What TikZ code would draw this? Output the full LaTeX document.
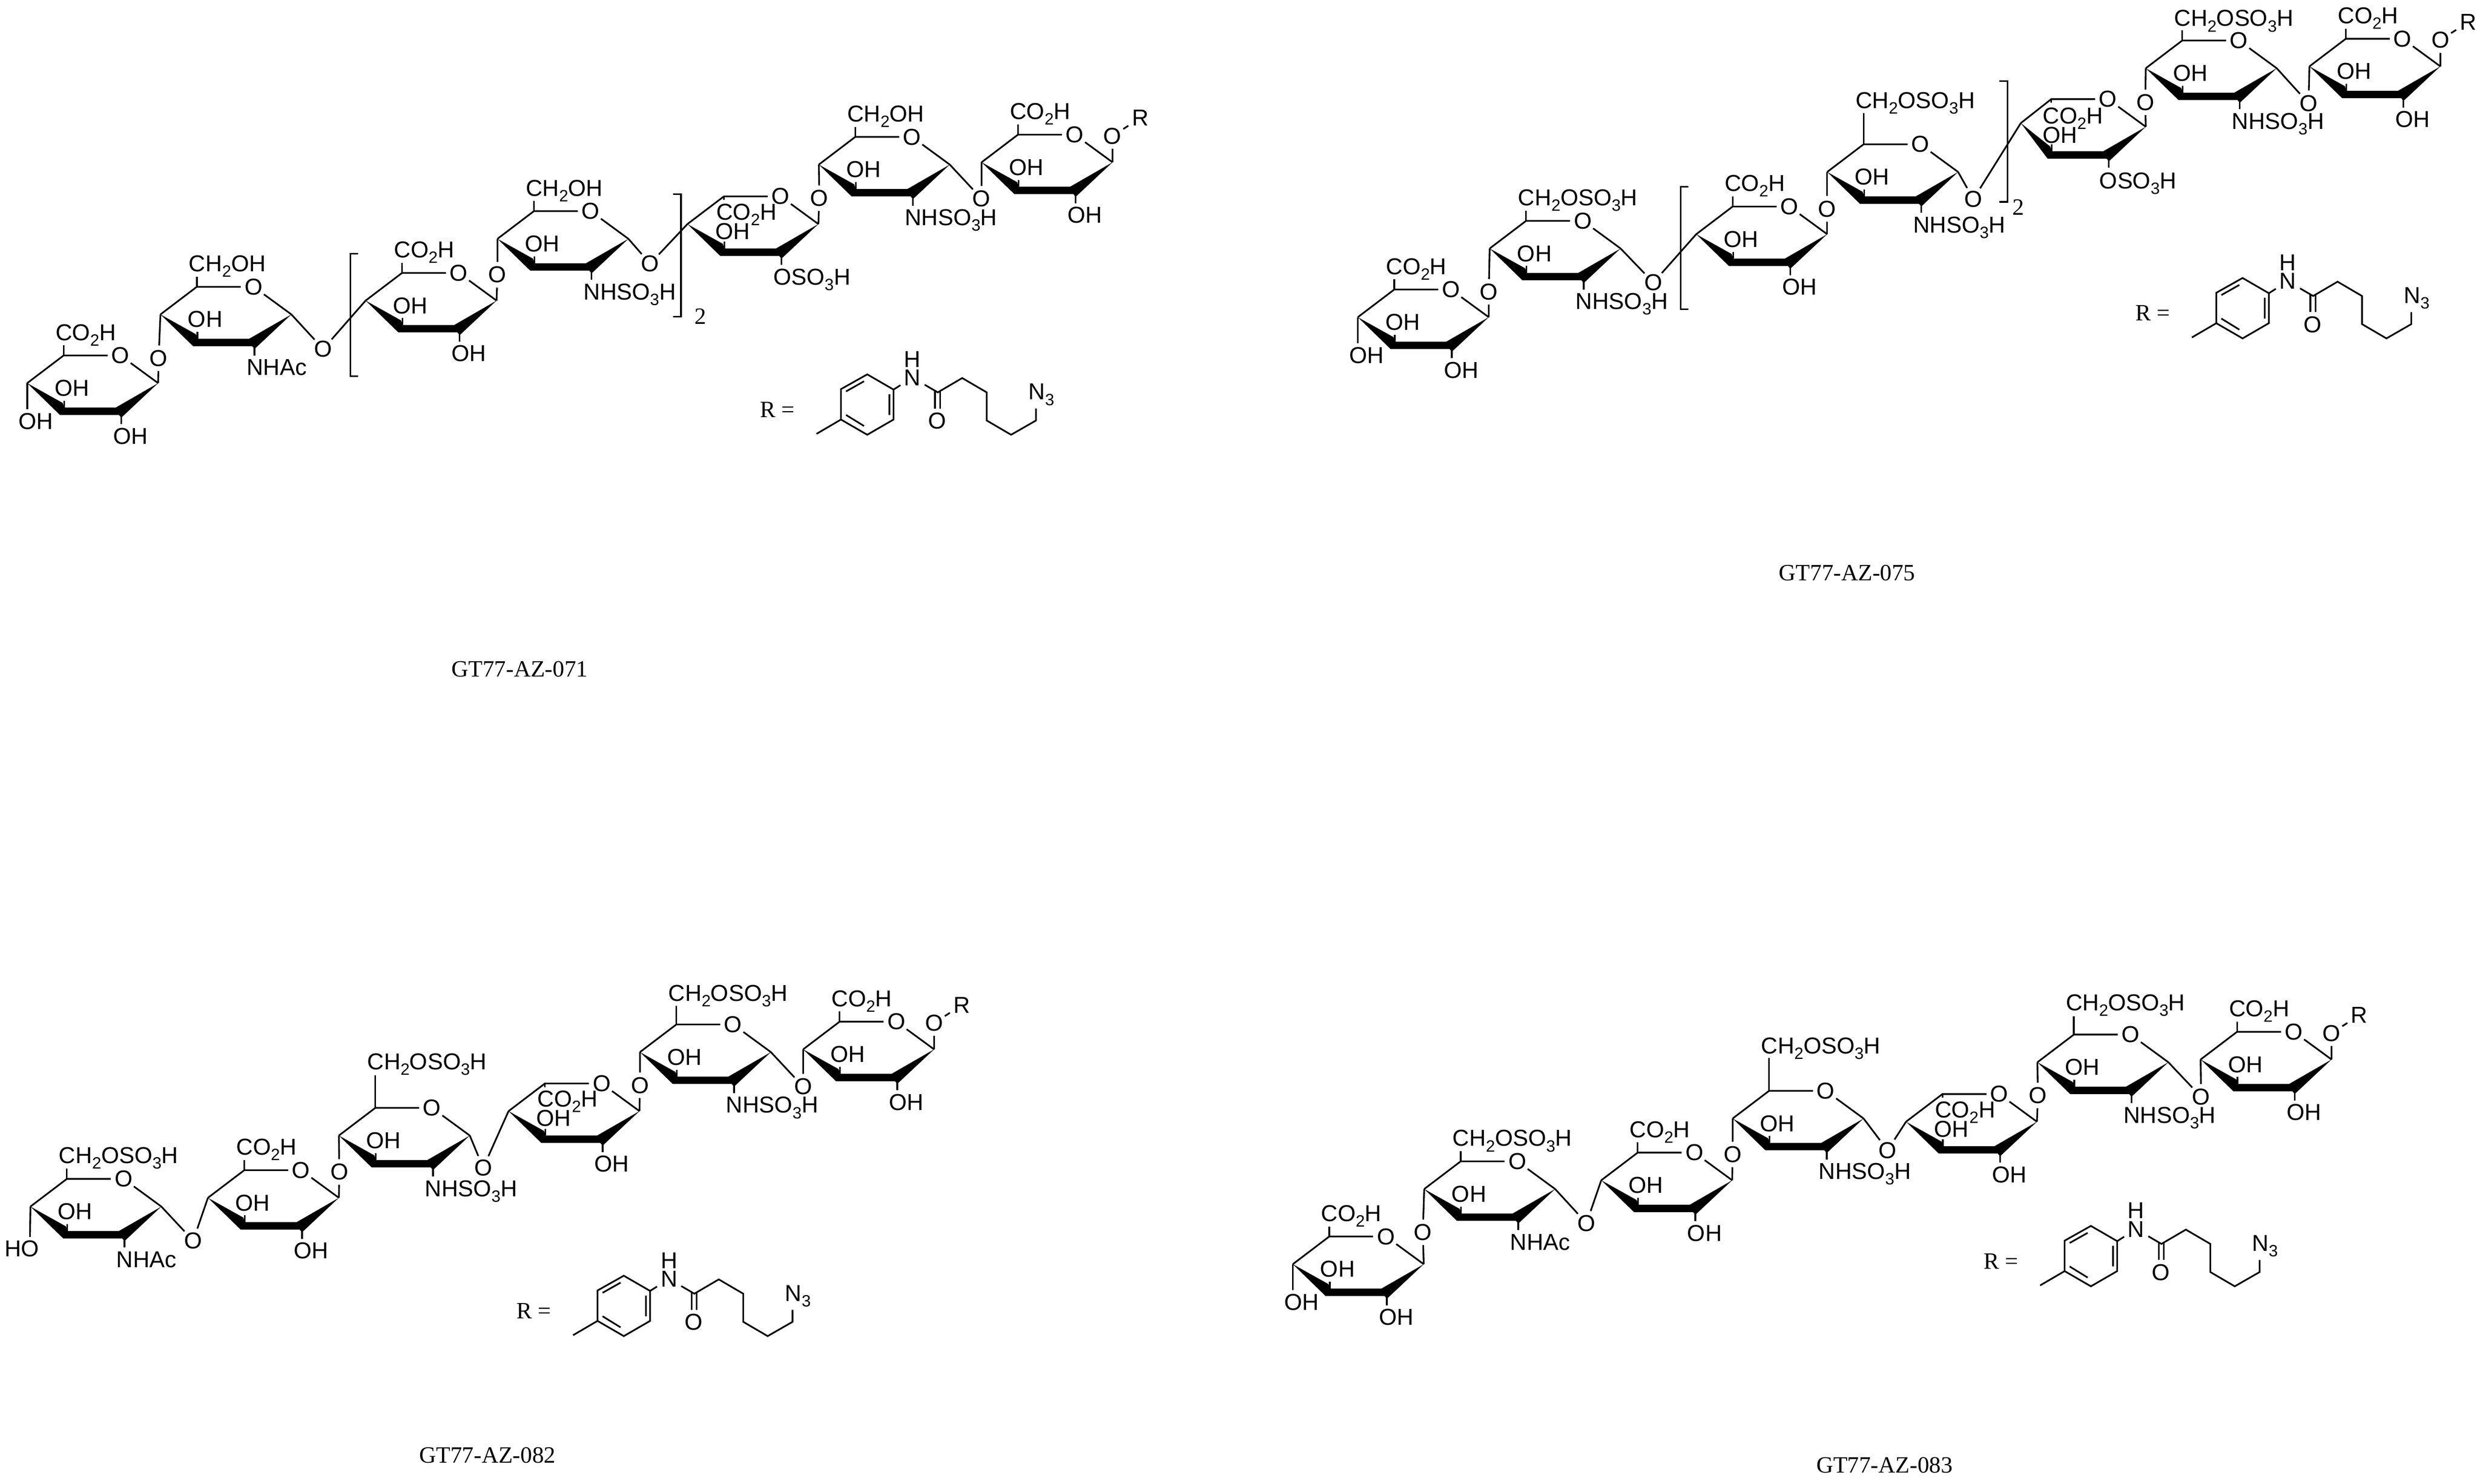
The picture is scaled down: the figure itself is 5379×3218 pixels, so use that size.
\documentclass[tikz,border=0pt]{standalone}
\usepackage{fontspec}
\usepackage{graphicx}
\newfontfamily\chem{Liberation Sans}
\newfontfamily\tnr{Liberation Serif}
\newcommand\chemfont{\chem\fontsize{14.2}{16}\selectfont}
\newcommand\tnrfont{\tnr\fontsize{14.4}{16}\selectfont}
\newcommand\sbs[1]{\raisebox{-0.24em}{\fontsize{10.1}{10}\selectfont #1}}
\newcounter{tn}
\tikzset{
  bond/.style={line width=0.036cm,line cap=butt,line join=miter},
  lab/.style={anchor=base west,inner sep=0pt,font=\chemfont},
  atom/.style={circle,inner sep=0pt,minimum size=0.54cm,font=\chemfont},
  atomwide/.style={circle,inner sep=0pt,minimum size=0.6cm,font=\chemfont},
  serif/.style={anchor=base west,inner sep=0pt,font=\tnrfont},
}
\newcommand\lab[3]{\stepcounter{tn}\node[lab] (t\thetn) at (#1,#2) {#3};}
\newcommand\chol{CH\sbs{2}OH}
\newcommand\chos{CH\sbs{2}OSO\sbs{3}H}
\newcommand\nhs{NHSO\sbs{3}H}
\newcommand\oso{OSO\sbs{3}H}
\newcommand\cotop{\draw[bond] (0,0)--(0,-22);\lab{-18}{-33}{CO\sbs{2}H}}
\newcommand\chtop[3]{\draw[bond] (0,0)--(0,-#1);\lab{-18}{#2}{#3}}
\newcommand\inoh{\lab{-20}{88}{OH}}
\newcommand\inohb{\lab{-19}{93}{OH}}
\newcommand\botx[1]{\draw[bond] (125,130)--(125,149);\lab{107}{192}{#1}}
\newcommand\botoh{\botx{OH}}
\newcommand\coin{\draw[bond] (0,0)--(0,8);\lab{-17}{51}{CO\sbs{2}H}}
\newcommand\cfoh{\draw[bond] (-79,60)--(-79,116);\lab{-98}{160}{OH}}
% sugar ring: optional C4 position, name, C5 position, substituents
\newcommand\sugar[5][-79,60]{%
  \begin{scope}[shift={(#3,#4)}]
    \coordinate (#2c5) at (0,0);
    \coordinate (#2c4) at (#1);
    \coordinate (#2c1) at (205,60);
    \node[atom] (#2o) at (123,0) {O};
    \draw[bond] (#2c4)--(#2c5)--(#2o)--(#2c1);
    \fill (#2c4)--(-2,103)--(1,113)--(113,113)--(#2c1)--(125,135)--(120,129)--(-8,129)--cycle;
    \draw[bond] (1,113)--(1,98);
    #5
  \end{scope}}
\newcommand\glyc[4]{\node[atom] (o#1#2) at (#3,#4) {O};}
\newcommand\lnk[4]{\glyc{#1}{#2}{#3}{#4}\pgfmathtruncatemacro\nx{#2+1}\draw[bond] (#1#2c1)--(o#1#2)--(#1\nx c4);}
\newcommand\tailR[2]{%
  \path (#1#2c1) ++(0,-57) node[atom] (o#1#2) {O};
  \path (#1#2c1) ++(60,-96) node[atomwide] (R#1) {R};
  \draw[bond] (#1#2c1)--(o#1#2)--(R#1);}
\newcommand\linker[3]{%
  \begin{scope}[shift={(#2,#3)}]
    \coordinate (#1a) at (0,0);
    \coordinate (#1b) at (57,33);
    \coordinate (#1c) at (57,98);
    \coordinate (#1d) at (0,131);
    \coordinate (#1e) at (-57,98);
    \coordinate (#1f) at (-57,32);
    \coordinate (#1me) at (-110,129);
    \coordinate (#1co) at (153,39);
    \coordinate (#1ch1) at (206,8);
    \coordinate (#1ch2) at (259,39);
    \coordinate (#1ch3) at (259,100);
    \coordinate (#1ch4) at (312,131);
    \coordinate (#1ch5) at (366,100);
    \coordinate (#1az) at (366,74);
    \node[atomwide] (#1n) at (98,7) {N};
    \node[atom] (#1h) at (98,-33) {H};
    \node[atom] (#1ox) at (152,101) {O};
    \stepcounter{tn}\node[lab] (t\thetn) at (349,55) {N\sbs{3}};
    \stepcounter{tn}\node[serif] (t\thetn) at (-233,93) {R =};
    \draw[bond] (#1a)--(#1b)--(#1c)--(#1d)--(#1e)--(#1f)--cycle;
    \draw[bond] (#1e)--(#1me);
    \draw[bond] (48,43)--(48,88) (-46,37)--(-7,15) (-46,88)--(-7,112);
    \draw[bond] (#1b)--(#1n)--(#1co)--(#1ch1)--(#1ch2)--(#1ch3)--(#1ch4)--(#1ch5)--(#1az);
    \draw[bond] (147,36)--(147,74) (158,36)--(158,74);
  \end{scope}}
\newcommand\brL[3]{\draw[bond] (#1+17,#2)--(#1,#2)--(#1,#3)--(#1+17,#3);}
\newcommand\brR[3]{\draw[bond] (#1-17,#2)--(#1,#2)--(#1,#3)--(#1-17,#3);}
\begin{document}
\begin{tikzpicture}[x=0.01cm,y=-0.01cm]
\useasboundingbox (0,0) rectangle (5379,3218);
% ---- GT77-AZ-071
\sugar{a1}{138}{771}{\cotop\inoh\botoh\cfoh}
\sugar{a2}{427}{622}{\chtop{22}{-33}{\chol}\inoh\botx{NHAc}}
\sugar{a3}{872}{592}{\cotop\inoh\botoh}
\sugar{a4}{1158}{458}{\chtop{22}{-33}{\chol}\inoh\botx{\nhs}}
\sugar{a5}{1570}{426}{\coin\inohb\botx{\oso}}
\sugar{a6}{1855}{297}{\chtop{22}{-33}{\chol}\inoh\botx{\nhs}}
\sugar{a7}{2208}{292}{\cotop\inoh\botoh}
\lnk{a}{1}{344}{777}
\lnk{a}{2}{701}{757}
\lnk{a}{3}{1079}{596}
\lnk{a}{4}{1410}{572}
\lnk{a}{5}{1777}{430}
\lnk{a}{6}{2129}{431}
\tailR{a}{7}
\brL{760}{550}{816}
\brR{1477}{421}{687}
\node[inner sep=0pt,font=\tnrfont] (n2a) at (1519,686) {2};
\linker{ra}{1881}{812}
\node[serif] (capa) at (979,1468) {GT77-AZ-071};
% ---- GT77-AZ-075
\sugar{b1}{3024}{628}{\cotop\inoh\botoh\cfoh}
\sugar{b2}{3310}{479}{\chtop{22}{-33}{\chos}\inoh\botx{\nhs}}
\sugar{b3}{3758}{448}{\cotop\inoh\botoh}
\sugar{b4}{4042}{313}{\chtop{68}{-78}{\chos}\inoh\botx{\nhs}}
\sugar[-66,52]{b5}{4449}{215}{\draw[bond] (0,0)--(0,8);\lab{-19}{53}{CO\sbs{2}H}\lab{-19}{95}{OH}\draw[bond] (125,130)--(125,149);\lab{104}{194}{\oso}}
\sugar{b6}{4733}{88}{\chtop{22}{-31}{\chos}\inoh\botx{\nhs}}
\sugar{b7}{5088}{84}{\cotop\inoh\botoh}
\lnk{b}{1}{3229}{633}
\lnk{b}{2}{3586}{613}
\lnk{b}{3}{3963}{453}
\lnk{b}{4}{4280}{432}
\lnk{b}{5}{4653}{222}
\lnk{b}{6}{5007}{224}
\tailR{b}{7}
\brL{3645}{405}{671}
\brR{4354}{176}{438}
\node[inner sep=0pt,font=\tnrfont] (n2b) at (4378,450) {2};
\linker{rb}{4864}{603}
\node[serif] (capb) at (3858,1259) {GT77-AZ-075};
% ---- GT77-AZ-082
\sugar{c1}{145}{2557}{\chtop{22}{-34}{\chos}\inoh\botx{NHAc}\draw[bond] (-79,60)--(-80,126);\lab{-136}{169}{HO}}
\sugar{c2}{530}{2538}{\cotop\inoh\botoh}
\sugar{c3}{814}{2403}{\chtop{71}{-83}{\chos}\inoh\botx{\nhs}}
\sugar{c4}{1182}{2350}{\coin\inohb\botoh}
\sugar{c5}{1467}{2222}{\chtop{40}{-51}{\chos}\inoh\botx{\nhs}}
\sugar{c6}{1821}{2216}{\cotop\inoh\botoh}
\lnk{c}{1}{419}{2691}
\lnk{c}{2}{736}{2542}
\lnk{c}{3}{1048}{2533}
\lnk{c}{4}{1388}{2354}
\lnk{c}{5}{1742}{2357}
\tailR{c}{6}
\linker{rc}{1353}{2767}
\node[serif] (capc) at (909,3173) {GT77-AZ-082};
% ---- GT77-AZ-083
\sugar{d1}{2883}{2682}{\cotop\inoh\botoh\cfoh}
\sugar{d2}{3168}{2519}{\chtop{22}{-33}{\chos}\inoh\botx{NHAc}}
\sugar{d3}{3552}{2500}{\cotop\inoh\botoh}
\sugar{d4}{3837}{2366}{\chtop{71}{-81}{\chos}\inoh\botx{\nhs}}
\sugar{d5}{4213}{2373}{\coin\inohb\botoh}
\sugar{d6}{4498}{2244}{\chtop{40}{-52}{\chos}\inoh\botx{\nhs}}
\sugar{d7}{4852}{2238}{\cotop\inoh\botoh}
\lnk{d}{1}{3086}{2673}
\lnk{d}{2}{3441}{2653}
\lnk{d}{3}{3758}{2504}
\lnk{d}{4}{4094}{2495}
\lnk{d}{5}{4420}{2376}
\lnk{d}{6}{4774}{2379}
\tailR{d}{7}
\linker{rd}{4535}{2659}
\node[serif] (capd) at (3939,3195) {GT77-AZ-083};
\end{tikzpicture}
\end{document}
